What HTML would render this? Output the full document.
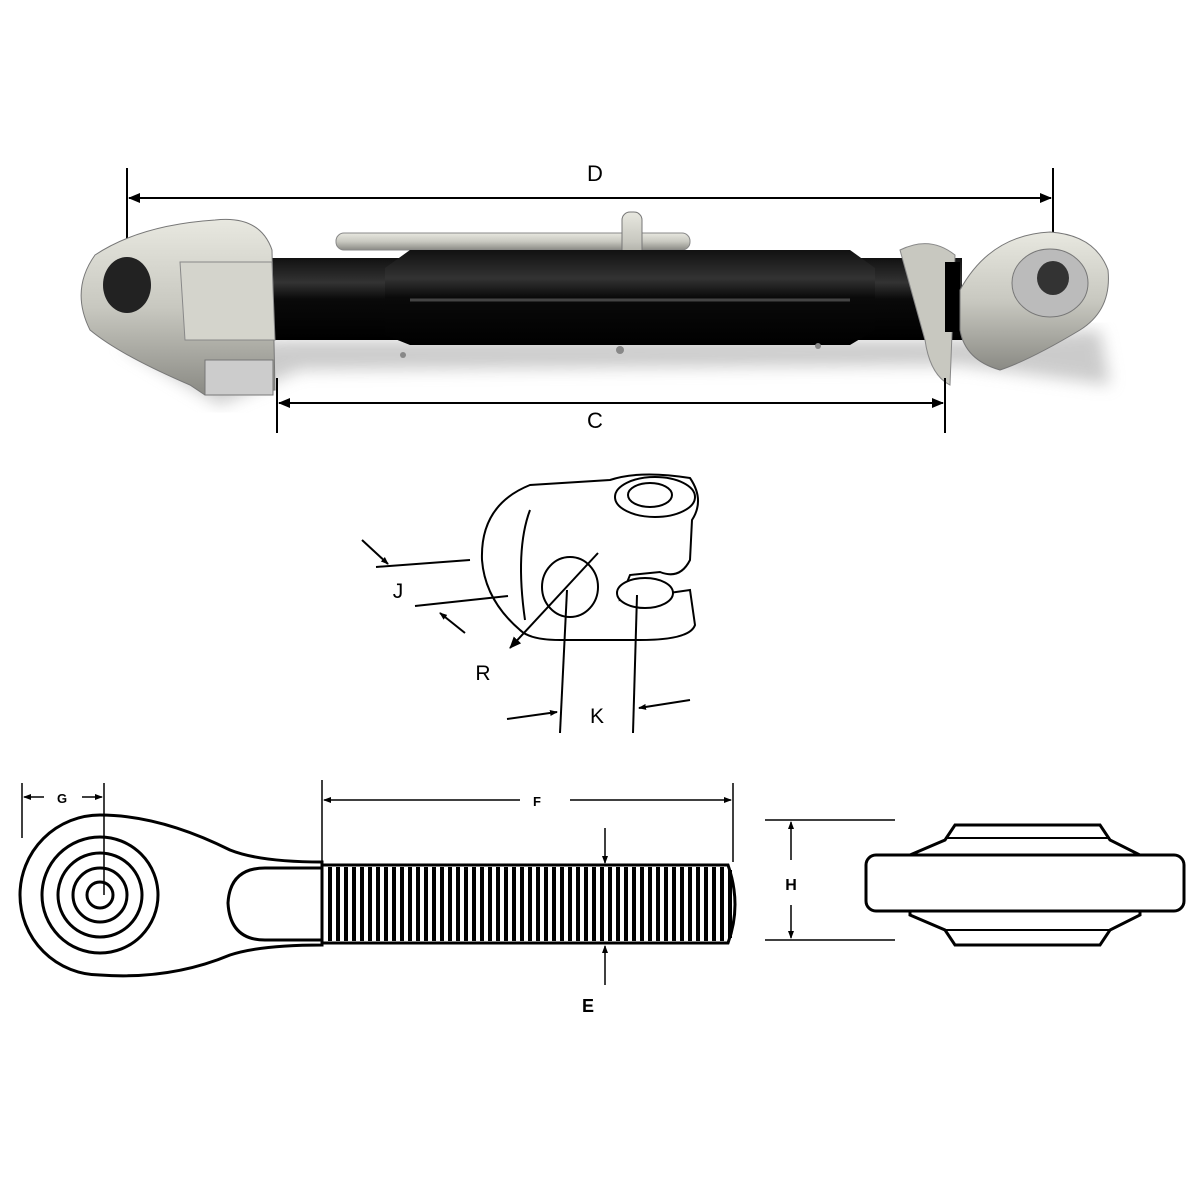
<!DOCTYPE html>
<html><head><style>body{margin:0;background:#fff}svg{display:block}</style></head>
<body>
<svg width="1200" height="1200" viewBox="0 0 1200 1200" xmlns="http://www.w3.org/2000/svg" font-family="Liberation Sans, sans-serif">
<defs>
<marker id="a" markerWidth="12" markerHeight="10" refX="11" refY="5" orient="auto-start-reverse" markerUnits="userSpaceOnUse"><path d="M0,0L12,5L0,10z" fill="#000"/></marker>
<marker id="s" markerWidth="8" markerHeight="6" refX="7" refY="3" orient="auto-start-reverse" markerUnits="userSpaceOnUse"><path d="M0,0L8,3L0,6z" fill="#000"/></marker>
<linearGradient id="sil" x1="0" y1="0" x2="0" y2="1"><stop offset="0" stop-color="#e8e8e0"/><stop offset="0.5" stop-color="#c8c8c0"/><stop offset="1" stop-color="#8a8a84"/></linearGradient>
<linearGradient id="blk" x1="0" y1="0" x2="0" y2="1"><stop offset="0" stop-color="#111"/><stop offset="0.3" stop-color="#333"/><stop offset="0.5" stop-color="#0a0a0a"/><stop offset="1" stop-color="#000"/></linearGradient>
<filter id="bl"><feGaussianBlur stdDeviation="8"/></filter>
</defs>
<!-- shadow -->
<path d="M120,345 L300,340 L960,340 L1100,330 L1110,385 L960,365 L300,370 L220,405 Z" fill="#999" opacity="0.5" filter="url(#bl)"/>
<!-- D dimension -->
<line x1="127" y1="168" x2="127" y2="292" stroke="#000" stroke-width="2"/>
<line x1="1053" y1="168" x2="1053" y2="270" stroke="#000" stroke-width="2"/>
<line x1="129" y1="198" x2="1051" y2="198" stroke="#000" stroke-width="2" marker-start="url(#a)" marker-end="url(#a)"/>
<text x="595" y="181" font-size="22" text-anchor="middle">D</text>
<!-- pin rod -->
<rect x="336" y="233" width="354" height="17" rx="8" fill="url(#sil)" stroke="#888"/>
<rect x="622" y="212" width="20" height="58" rx="8" fill="url(#sil)" stroke="#777"/>
<!-- tube -->
<rect x="272" y="258" width="690" height="82" fill="url(#blk)"/>
<path d="M385,268 L410,250 L850,250 L875,268 L875,330 L850,345 L410,345 L385,335 Z" fill="url(#blk)"/>
<line x1="410" y1="300" x2="850" y2="300" stroke="#444" stroke-width="3"/>
<circle cx="403" cy="355" r="3" fill="#888"/><circle cx="620" cy="350" r="4" fill="#888"/><circle cx="818" cy="346" r="3" fill="#888"/>
<!-- left clevis -->
<path d="M95,255 Q140,225 215,220 Q260,215 272,250 L275,390 L205,395 L190,385 Q120,355 90,330 Q70,290 95,255 Z" fill="url(#sil)" stroke="#777"/>
<path d="M180,262 L272,262 L275,340 L185,340 Z" fill="#d4d4cc" stroke="#888"/>
<rect x="205" y="360" width="68" height="35" fill="#ccc" stroke="#777"/>
<ellipse cx="127" cy="285" rx="24" ry="28" fill="#222"/>
<!-- right eye -->
<path d="M900,250 Q930,235 955,255 L950,385 Q930,375 925,340 Z" fill="#c8c8c0" stroke="#888"/>
<rect x="945" y="262" width="15" height="70" fill="#000"/>
<path d="M960,290 Q990,235 1050,232 Q1095,235 1108,270 Q1112,310 1080,330 Q1030,360 1000,370 Q965,360 960,330 Z" fill="url(#sil)" stroke="#777"/>
<ellipse cx="1050" cy="283" rx="38" ry="34" fill="#bbb" stroke="#777"/>
<ellipse cx="1053" cy="278" rx="16" ry="17" fill="#333"/>
<!-- C dimension -->
<line x1="277" y1="378" x2="277" y2="433" stroke="#000" stroke-width="2"/>
<line x1="945" y1="378" x2="945" y2="433" stroke="#000" stroke-width="2"/>
<line x1="279" y1="403" x2="943" y2="403" stroke="#000" stroke-width="2" marker-start="url(#a)" marker-end="url(#a)"/>
<text x="595" y="428" font-size="22" text-anchor="middle">C</text>

<!-- clevis line drawing -->
<g fill="#fff" stroke="#000" stroke-width="2">
<path d="M482,560 Q480,505 530,485 L610,480 Q640,470 690,478 Q705,500 692,520 L690,560 Q680,580 660,572 L630,575 L620,600 L690,590 L695,625 Q690,640 640,640 L560,640 Q530,640 520,630 Q485,600 482,560 Z"/>
<ellipse cx="655" cy="497" rx="40" ry="20"/>
<ellipse cx="650" cy="495" rx="22" ry="12"/>
<ellipse cx="645" cy="593" rx="28" ry="15"/>
<ellipse cx="570" cy="587" rx="28" ry="30" fill="none"/>
<path d="M530,510 Q515,550 525,620" fill="none"/>
</g>
<g stroke="#000" stroke-width="2" fill="none">
<line x1="376" y1="567" x2="470" y2="560"/>
<line x1="415" y1="606" x2="508" y2="596"/>
<line x1="362" y1="540" x2="388" y2="564" marker-end="url(#s)"/>
<line x1="465" y1="633" x2="440" y2="613" marker-end="url(#s)"/>
<line x1="598" y1="553" x2="510" y2="648" marker-end="url(#a)"/>
<line x1="567" y1="590" x2="560" y2="733"/>
<line x1="637" y1="595" x2="633" y2="733"/>
<line x1="507" y1="719" x2="557" y2="712" marker-end="url(#s)"/>
<line x1="690" y1="700" x2="639" y2="708" marker-end="url(#s)"/>
</g>
<text x="398" y="598" font-size="21" text-anchor="middle">J</text>
<text x="483" y="680" font-size="21" text-anchor="middle">R</text>
<text x="597" y="723" font-size="21" text-anchor="middle">K</text>

<!-- eye bolt -->
<g stroke="#000" stroke-width="3" fill="#fff">
<path d="M100,815 Q160,815 230,850 Q260,862 322,862 L322,945 Q260,945 230,955 Q170,980 100,975 A80,80 0 0 1 100,815 Z"/>
<circle cx="100" cy="895" r="58"/>
<circle cx="100" cy="895" r="42"/>
<circle cx="100" cy="895" r="27"/>
<circle cx="100" cy="895" r="13"/>
<path d="M322,868 L265,868 Q230,868 228,903 Q230,940 265,940 L322,940 Z"/>
<path d="M322,865 L728,865 Q742,905 728,943 L322,943 Z"/>
</g>
<g stroke="#000" stroke-width="4">
<line x1="330" y1="867" x2="330" y2="941"/><line x1="338" y1="867" x2="338" y2="941"/><line x1="346" y1="867" x2="346" y2="941"/><line x1="354" y1="867" x2="354" y2="941"/><line x1="362" y1="867" x2="362" y2="941"/><line x1="370" y1="867" x2="370" y2="941"/><line x1="378" y1="867" x2="378" y2="941"/><line x1="386" y1="867" x2="386" y2="941"/><line x1="394" y1="867" x2="394" y2="941"/><line x1="402" y1="867" x2="402" y2="941"/><line x1="410" y1="867" x2="410" y2="941"/><line x1="418" y1="867" x2="418" y2="941"/><line x1="426" y1="867" x2="426" y2="941"/><line x1="434" y1="867" x2="434" y2="941"/><line x1="442" y1="867" x2="442" y2="941"/><line x1="450" y1="867" x2="450" y2="941"/><line x1="458" y1="867" x2="458" y2="941"/><line x1="466" y1="867" x2="466" y2="941"/><line x1="474" y1="867" x2="474" y2="941"/><line x1="482" y1="867" x2="482" y2="941"/><line x1="490" y1="867" x2="490" y2="941"/><line x1="498" y1="867" x2="498" y2="941"/><line x1="506" y1="867" x2="506" y2="941"/><line x1="514" y1="867" x2="514" y2="941"/><line x1="522" y1="867" x2="522" y2="941"/><line x1="530" y1="867" x2="530" y2="941"/><line x1="538" y1="867" x2="538" y2="941"/><line x1="546" y1="867" x2="546" y2="941"/><line x1="554" y1="867" x2="554" y2="941"/><line x1="562" y1="867" x2="562" y2="941"/><line x1="570" y1="867" x2="570" y2="941"/><line x1="578" y1="867" x2="578" y2="941"/><line x1="586" y1="867" x2="586" y2="941"/><line x1="594" y1="867" x2="594" y2="941"/><line x1="602" y1="867" x2="602" y2="941"/><line x1="610" y1="867" x2="610" y2="941"/><line x1="618" y1="867" x2="618" y2="941"/><line x1="626" y1="867" x2="626" y2="941"/><line x1="634" y1="867" x2="634" y2="941"/><line x1="642" y1="867" x2="642" y2="941"/><line x1="650" y1="867" x2="650" y2="941"/><line x1="658" y1="867" x2="658" y2="941"/><line x1="666" y1="867" x2="666" y2="941"/><line x1="674" y1="867" x2="674" y2="941"/><line x1="682" y1="867" x2="682" y2="941"/><line x1="690" y1="867" x2="690" y2="941"/><line x1="698" y1="867" x2="698" y2="941"/><line x1="706" y1="867" x2="706" y2="941"/><line x1="714" y1="867" x2="714" y2="941"/><line x1="722" y1="867" x2="722" y2="941"/><line x1="730" y1="870" x2="730" y2="938"/>
</g>
<!-- G F E dims -->
<g stroke="#000" stroke-width="1.5" fill="none">
<line x1="22" y1="783" x2="22" y2="838"/><line x1="104" y1="783" x2="104" y2="895"/>
<line x1="24" y1="797" x2="44" y2="797" marker-start="url(#s)"/><line x1="82" y1="797" x2="102" y2="797" marker-end="url(#s)"/>
<line x1="322" y1="780" x2="322" y2="862"/><line x1="733" y1="783" x2="733" y2="862"/>
<line x1="324" y1="800" x2="520" y2="800" marker-start="url(#s)"/><line x1="570" y1="800" x2="731" y2="800" marker-end="url(#s)"/>
<line x1="605" y1="828" x2="605" y2="863" marker-end="url(#s)"/>
<line x1="605" y1="985" x2="605" y2="946" marker-end="url(#s)"/>
<line x1="765" y1="820" x2="895" y2="820"/><line x1="765" y1="940" x2="895" y2="940"/>
<line x1="791" y1="860" x2="791" y2="822" marker-end="url(#s)"/><line x1="791" y1="905" x2="791" y2="938" marker-end="url(#s)"/>
</g>
<text x="62" y="803" font-size="13" font-weight="bold" text-anchor="middle">G</text>
<text x="537" y="806" font-size="13" font-weight="bold" text-anchor="middle">F</text>
<text x="588" y="1012" font-size="18" font-weight="bold" text-anchor="middle">E</text>
<text x="791" y="890" font-size="16" font-weight="bold" text-anchor="middle">H</text>
<!-- side view -->
<g stroke="#000" stroke-width="3" fill="#fff">
<path d="M945,840 L955,825 L1100,825 L1110,840 L1140,855 L1140,915 L1110,930 L1100,945 L955,945 L945,930 L910,915 L910,855 Z"/>
<rect x="866" y="855" width="318" height="56" rx="10"/>
</g>
<line x1="945" y1="838" x2="1110" y2="838" stroke="#000" stroke-width="2"/>
<line x1="945" y1="930" x2="1110" y2="930" stroke="#000" stroke-width="2"/>
</svg>
</body></html>
